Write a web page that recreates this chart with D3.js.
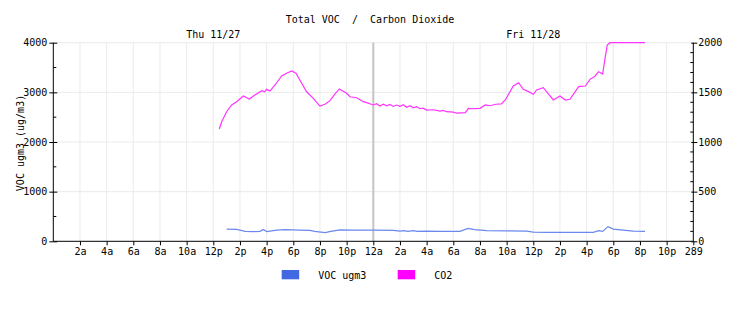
<!DOCTYPE html>
<html lang="en">
<head>
    <meta charset="UTF-8">
    <title>Total VOC / Carbon Dioxide</title>
    <script src="https://d3js.org/d3.v7.min.js"></script>
    <style>
        body {
            margin: 0;
            background: #fff;
        }
        svg text {
            font-family: "DejaVu Sans Mono", monospace;
            font-size: 10px;
            fill: #000;
        }
        .grid line {
            stroke: #ebebeb;
            stroke-width: 1;
        }
    </style>
</head>
<body>
    <div id="chart"></div>
    <script>
        // hours since Thu 00:00
        const xTicks = d3.range(2, 49, 2);
        const xTickLabels = ["2a", "4a", "6a", "8a", "10a", "12p", "2p", "4p", "6p", "8p", "10p", "12a",
                             "2a", "4a", "6a", "8a", "10a", "12p", "2p", "4p", "6p", "8p", "10p", "289"];
        const dayLabels = [{ h: 12, text: "Thu 11/27" }, { h: 36, text: "Fri 11/28" }];
        const leftTicks = [0, 1000, 2000, 3000, 4000];
        const rightTicks = [0, 500, 1000, 1500, 2000];

        // CO2 (ppm, right axis)
        const co2Hours = [12.45, 12.63, 13.0, 13.38, 13.75, 14.25, 14.7, 15.13, 15.63, 15.85, 16.0, 16.25, 16.63, 17.13,
            17.5, 17.88, 18.2, 18.63, 19.0, 19.5, 20.0, 20.38, 20.75, 21.1, 21.45, 22.0, 22.25, 22.75, 23.25, 23.5,
            24.0, 24.25, 24.5, 24.75, 25.0, 25.25, 25.5, 25.75, 26.0, 26.25, 26.5, 26.75, 27.0, 27.25, 27.5, 27.75,
            28.0, 28.5, 29.0, 29.25, 29.5, 30.0, 30.25, 30.9, 31.13, 31.5, 32.0, 32.4, 32.75, 33.2, 33.6, 33.9,
            34.5, 34.9, 35.25, 35.6, 36.0, 36.25, 36.75, 37.1, 37.5, 38.0, 38.4, 38.75, 39.4, 39.9, 40.25, 40.6,
            40.9, 41.2, 41.4, 41.55, 41.75, 44.38];
        const co2Values = [1131, 1204, 1305, 1373, 1406, 1463, 1433, 1473, 1517, 1505, 1530, 1513, 1574, 1665,
            1692, 1715, 1692, 1591, 1506, 1440, 1362, 1380, 1416, 1480, 1534, 1490, 1456, 1446, 1406, 1396,
            1373, 1385, 1362, 1380, 1365, 1378, 1358, 1372, 1360, 1375, 1350, 1365, 1345, 1355, 1335, 1340,
            1322, 1325, 1312, 1318, 1305, 1300, 1290, 1295, 1339, 1335, 1339, 1373, 1365, 1380, 1383, 1423,
            1564, 1597, 1530, 1510, 1480, 1524, 1547, 1490, 1423, 1463, 1423, 1430, 1557, 1564, 1631, 1660,
            1708, 1685, 1859, 1977, 2000, 2000];

        // VOC (ug/m3, left axis)
        const vocHours = [13.0, 13.75, 14.4, 15.0, 15.5, 15.75, 16.0, 16.5, 16.75, 17.4, 18.5, 19.25, 19.6, 20.4,
            20.8, 21.5, 22.5, 24.0, 25.5, 26.0, 26.3, 26.6, 27.0, 27.3, 28.0, 29.0, 30.5, 31.1, 31.6, 32.5,
            34.0, 35.5, 36.0, 37.0, 39.0, 40.5, 40.9, 41.2, 41.6, 42.0, 42.75, 43.5, 44.38];
        const vocValues = [245, 240, 200, 195, 200, 240, 195, 215, 225, 235, 225, 220, 200, 175,
            200, 230, 225, 225, 220, 205, 215, 200, 215, 200, 205, 200, 200, 260, 235, 215,
            210, 205, 185, 180, 180, 180, 215, 200, 295, 245, 225, 205, 200];

        const width = 739, height = 312;
        const m = { left: 53.3, right: 693.3, top: 42.7, bottom: 241.3 };

        const svg = d3.select("#chart").append("svg")
            .attr("width", width)
            .attr("height", height);

        const x = d3.scaleLinear().domain([0, 48]).range([m.left, m.right]);
        const yL = d3.scaleLinear().domain([0, 4000]).range([m.bottom, m.top]);
        const yR = d3.scaleLinear().domain([0, 2000]).range([m.bottom, m.top]);

        // grid
        const grid = svg.append("g").attr("class", "grid");
        grid.selectAll(".gx").data(xTicks.slice(0, -1)).enter().append("line")
            .attr("x1", d => x(d)).attr("x2", d => x(d))
            .attr("y1", m.top).attr("y2", m.bottom);
        grid.selectAll(".gy").data(leftTicks.slice(1)).enter().append("line")
            .attr("x1", m.left).attr("x2", m.right)
            .attr("y1", d => yL(d)).attr("y2", d => yL(d));

        // midnight divider
        svg.append("line")
            .attr("x1", x(24)).attr("x2", x(24))
            .attr("y1", m.top).attr("y2", m.bottom)
            .attr("stroke", "#c4c4c4").attr("stroke-width", 2);

        // lines
        const co2Line = d3.line().x(d => x(d[0])).y(d => yR(d[1]));
        const vocLine = d3.line().x(d => x(d[0])).y(d => yL(d[1]));

        svg.append("path")
            .datum(vocHours.map((h, i) => [h, vocValues[i]]))
            .attr("fill", "none")
            .attr("stroke", "#6a88ee")
            .attr("stroke-width", 1.2)
            .attr("d", vocLine);

        svg.append("path")
            .datum(co2Hours.map((h, i) => [h, co2Values[i]]))
            .attr("fill", "none")
            .attr("stroke", "#ff33ff")
            .attr("stroke-width", 1.2)
            .attr("d", co2Line);

        // axes
        const xAxis = svg.append("g")
            .attr("transform", `translate(0,${m.bottom})`)
            .call(d3.axisBottom(x).tickValues(xTicks)
                .tickFormat((d, i) => xTickLabels[i]).tickSize(4).tickPadding(3));
        xAxis.select(".domain").attr("d", `M${m.left},0H${m.right}`);

        const leftAxis = svg.append("g")
            .attr("transform", `translate(${m.left},0)`)
            .call(d3.axisLeft(yL).tickValues(leftTicks).tickFormat(d3.format("d")).tickSize(4).tickPadding(2));
        leftAxis.selectAll(".tick line").attr("x2", 4).attr("x1", -4);
        leftAxis.select(".domain").attr("d", `M0,${m.top}V${m.bottom}`);
        leftAxis.selectAll(".minor").data([500, 1500, 2500, 3500]).enter().append("line")
            .attr("x1", 0).attr("x2", 3)
            .attr("y1", d => yL(d)).attr("y2", d => yL(d))
            .attr("stroke", "#000");

        const rightAxis = svg.append("g")
            .attr("transform", `translate(${m.right},0)`)
            .call(d3.axisRight(yR).tickValues(rightTicks).tickFormat(d3.format("d")).tickSize(4).tickPadding(1));
        rightAxis.selectAll(".tick line").attr("x1", -2);
        rightAxis.select(".domain").attr("d", `M0,${m.top}V${m.bottom}`);
        rightAxis.selectAll(".minor").data(d3.range(100, 2000, 100).filter(v => v % 500 !== 0)).enter().append("line")
            .attr("x1", -3).attr("x2", 0)
            .attr("y1", d => yR(d)).attr("y2", d => yR(d))
            .attr("stroke", "#000");

        svg.selectAll(".tick text").style("font-family", "DejaVu Sans Mono").style("font-size", "10px");

        // titles
        svg.append("text")
            .attr("x", 370).attr("y", 23)
            .attr("text-anchor", "middle")
            .attr("xml:space", "preserve")
            .text("Total VOC  /  Carbon Dioxide");

        svg.selectAll(".day").data(dayLabels).enter().append("text")
            .attr("x", d => x(d.h)).attr("y", 38)
            .attr("text-anchor", "middle")
            .text(d => d.text);

        svg.append("text")
            .attr("transform", "translate(24,143) rotate(-90)")
            .attr("text-anchor", "middle")
            .text("VOC ugm3 (ug/m3)");

        // legend
        const legend = [{ name: "VOC ugm3", color: "#4169e1", x: 281.7 }, { name: "CO2", color: "#ff00ff", x: 397.7 }];
        const lg = svg.selectAll(".lg").data(legend).enter().append("g")
            .attr("transform", d => `translate(${d.x},270)`);
        lg.append("rect").attr("width", 17.5).attr("height", 9.3).attr("fill", d => d.color);
        lg.append("text").attr("x", 36.5).attr("y", 8.5).text(d => d.name);
    </script>
</body>
</html>
